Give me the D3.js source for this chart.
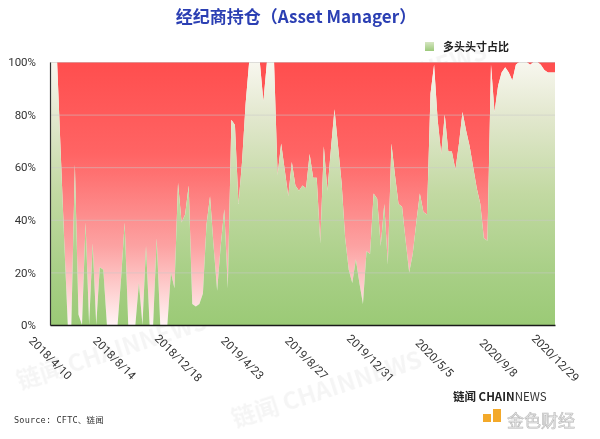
<!DOCTYPE html>
<html>
<head>
<meta charset="utf-8">
<script src="https://cdn.jsdelivr.net/npm/d3@7"></script>
<style>
  html, body { margin: 0; padding: 0; background: #fff; }
  svg { display: block; }
</style>
</head>
<body>
<svg id="chart" width="600" height="439"></svg>
<script>
// ---------------- DATA ----------------
const startDate = "2018-04-10";   // first weekly CFTC report
const endDate = "2020-12-29";     // last weekly CFTC report
// long-position share (%) of Asset Manager, weekly
const longShare = [
  100, 100, 100, 66, 32, 0, 0, 61, 4, 0,
  39, 0, 31, 0, 22, 21, 0, 0, 0, 0,
  18, 39, 0, 0, 0, 16, 0, 30, 0, 0,
  33, 0, 0, 0, 20, 14, 54, 39, 42, 53,
  8, 7, 8, 12, 38, 49, 30, 13, 30, 44,
  14, 78, 76, 46, 62, 84, 100, 100, 100, 100,
  85, 100, 100, 100, 57, 69, 59, 49, 62, 53,
  51, 53, 52, 65, 56, 56, 31, 68, 51, 67,
  82, 68, 54, 33, 21, 16, 25, 16, 8, 28,
  27, 50, 48, 30, 46, 23, 69, 57, 46, 45,
  32, 20, 27, 39, 50, 43, 42, 88, 99, 78,
  65, 80, 66, 66, 59, 69, 81, 74, 68, 60,
  52, 46, 33, 32, 99, 81, 91, 96, 98, 96,
  93, 99, 100, 100, 100, 99, 100, 100, 99, 97,
  96, 96, 96
];
const xTickLabels = ["2018/4/10", "2018/8/14", "2018/12/18", "2019/4/23", "2019/8/27",
                     "2019/12/31", "2020/5/5", "2020/9/8", "2020/12/29"];
const yTickValues = [0, 20, 40, 60, 80, 100];
const titleText = "经纪商持仓（Asset Manager）";
const legendLabel = "多头头寸占比";
const sourceText = "Source: CFTC、链闻";

// ---------------- SETUP ----------------
const svg = d3.select("#chart");
const W = 600, H = 439;
const m = { left: 50, right: 45, top: 62, bottom: 114 };
const x0 = m.left, x1 = W - m.right, yTop = m.top, yBot = H - m.bottom;

const parse = d3.timeParse("%Y-%m-%d");
const parseTick = d3.timeParse("%Y/%m/%d");
const first = parse(startDate);
const dates = longShare.map((_, i) => d3.timeWeek.offset(first, i));
const data = longShare.map((v, i) => ({ date: dates[i], v }));

const x = d3.scaleTime().domain([first, parse(endDate)]).range([x0, x1]);
const y = d3.scaleLinear().domain([0, 100]).range([yBot, yTop]);

svg.append("rect").attr("width", W).attr("height", H).attr("fill", "#fff");

// gradients
const defs = svg.append("defs");
const gRed = defs.append("linearGradient").attr("id", "gRed")
  .attr("gradientUnits", "userSpaceOnUse").attr("x1", 0).attr("x2", 0)
  .attr("y1", yTop).attr("y2", yBot);
[[0, "#ff4e4e"], [0.35, "#ff6464"], [0.7, "#fca2a2"], [1, "#fff4f4"]].forEach(s =>
  gRed.append("stop").attr("offset", s[0]).attr("stop-color", s[1]));
const gGreen = defs.append("linearGradient").attr("id", "gGreen")
  .attr("gradientUnits", "userSpaceOnUse").attr("x1", 0).attr("x2", 0)
  .attr("y1", yTop).attr("y2", yBot);
[[0, "#f8f7ef"], [0.2, "#e3e8cf"], [0.5, "#c2d9a2"], [0.8, "#a8cf86"], [1, "#9bca76"]].forEach(s =>
  gGreen.append("stop").attr("offset", s[0]).attr("stop-color", s[1]));
const gLeg = defs.append("linearGradient").attr("id", "gLeg")
  .attr("x1", 0).attr("x2", 0).attr("y1", 0).attr("y2", 1);
[[0, "#d6e6c2"], [1, "#9cc97a"]].forEach(s =>
  gLeg.append("stop").attr("offset", s[0]).attr("stop-color", s[1]));

// watermarks (faint)
const wm = svg.append("g").attr("fill", "#000").attr("opacity", 0.04)
  .attr("font-family", "'Noto Sans CJK SC', 'Noto Sans', sans-serif")
  .attr("font-weight", "bold").attr("font-size", 24);
[[20, 390, -18], [235, 428, -18], [300, 120, -18]].forEach(p =>
  wm.append("text").attr("transform", `translate(${p[0]},${p[1]}) rotate(${p[2]})`).text("链闻 CHAINNEWS"));

// areas
const red = d3.area().x(d => x(d.date)).y0(d => y(d.v)).y1(() => y(100));
const green = d3.area().x(d => x(d.date)).y0(() => y(0)).y1(d => y(d.v));
svg.append("path").datum(data).attr("d", red).attr("fill", "url(#gRed)");
svg.append("path").datum(data).attr("d", green).attr("fill", "url(#gGreen)");

// gridlines
svg.append("g").selectAll("line").data(yTickValues.filter(v => v > 0)).join("line")
  .attr("x1", x0).attr("x2", x1)
  .attr("y1", d => y(d) + 0.5).attr("y2", d => y(d) + 0.5)
  .attr("stroke", "#c8c8c8").attr("stroke-opacity", 0.55).attr("stroke-width", 1);

// axes
const yAxis = svg.append("g").attr("transform", `translate(${x0},0)`)
  .call(d3.axisLeft(y).tickValues(yTickValues).tickSize(0).tickPadding(14)
    .tickFormat(d => d + "%"));
yAxis.select(".domain").attr("stroke", "#333").attr("stroke-width", 1.2);
yAxis.selectAll("text").attr("font-family", "Roboto, 'Liberation Sans', sans-serif")
  .attr("font-size", 11.5).attr("fill", "#333");

const tickDates = xTickLabels.map(parseTick);
const xAxis = svg.append("g").attr("transform", `translate(0,${yBot})`)
  .call(d3.axisBottom(x).tickValues(tickDates).tickSize(0)
    .tickFormat((d, i) => xTickLabels[i]));
xAxis.select(".domain").attr("stroke", "#1a1a1a").attr("stroke-width", 1.5);
xAxis.selectAll("text")
  .attr("font-family", "Roboto, 'Liberation Sans', sans-serif")
  .attr("font-size", 11.5).attr("fill", "#333")
  .attr("text-anchor", "middle").attr("dy", "0.35em")
  .attr("transform", "translate(0,33) rotate(45)").attr("y", 0);

// title
svg.append("text").attr("x", 296).attr("y", 23).attr("text-anchor", "middle")
  .attr("font-family", "'Noto Sans CJK SC', sans-serif").attr("font-weight", "bold")
  .attr("font-size", 17).attr("fill", "#2b3fb3").text(titleText);

// legend
svg.append("rect").attr("x", 425).attr("y", 42).attr("width", 9).attr("height", 9)
  .attr("fill", "url(#gLeg)");
svg.append("text").attr("x", 443).attr("y", 47).attr("dy", "0.35em")
  .attr("font-family", "'Noto Sans CJK SC', sans-serif").attr("font-weight", "bold")
  .attr("font-size", 11).attr("fill", "#222").text(legendLabel);

// source
svg.append("text").attr("x", 14).attr("y", 423)
  .attr("font-family", "'DejaVu Sans Mono', 'Noto Sans CJK SC', monospace")
  .attr("font-size", 8.5).attr("letter-spacing", 0.2).attr("fill", "#333").text(sourceText);

// bottom-right logos
const logo = svg.append("g");
const lt = logo.append("text").attr("x", 453).attr("y", 401)
  .attr("font-family", "'Noto Sans CJK SC', 'Noto Sans', sans-serif").attr("font-size", 11.5);
lt.append("tspan").attr("font-weight", "bold").attr("fill", "#222").text("链闻 CHAIN");
lt.append("tspan").attr("fill", "#333").text("NEWS");
logo.append("rect").attr("x", 483).attr("y", 414).attr("width", 8).attr("height", 8).attr("fill", "#f3a92a");
logo.append("rect").attr("x", 493).attr("y", 409).attr("width", 8).attr("height", 13).attr("fill", "#f3a92a");
logo.append("text").attr("x", 507).attr("y", 427)
  .attr("font-family", "'Noto Sans CJK SC', sans-serif").attr("font-size", 17)
  .attr("fill", "#e6e6e6").attr("stroke", "#bbb").attr("stroke-width", 0.6).text("金色财经");
</script>
</body>
</html>
